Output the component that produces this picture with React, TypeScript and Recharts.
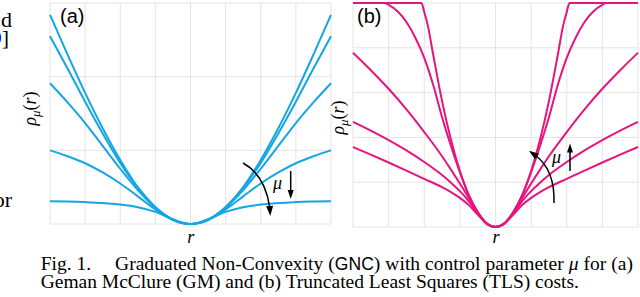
import { LineChart, Line, XAxis, YAxis, CartesianGrid } from 'recharts'

// (a) Geman McClure, shared r grid
const gmR = [-4, -3.5, -3, -2.5, -2, -1.5, -1, -0.5, 0, 0.5, 1, 1.5, 2, 2.5, 3, 3.5, 4]
const gm1 = [2.84, 2.3, 1.78, 1.3, 0.87, 0.5, 0.23, 0.058, 0, 0.058, 0.23, 0.5, 0.87, 1.3, 1.78, 2.3, 2.84]
const gm2 = [2.55, 2.11, 1.66, 1.23, 0.83, 0.49, 0.22, 0.057, 0, 0.057, 0.22, 0.49, 0.83, 1.23, 1.66, 2.11, 2.55]
const gm3 = [1.91, 1.65, 1.37, 1.06, 0.75, 0.46, 0.22, 0.057, 0, 0.057, 0.22, 0.46, 0.75, 1.06, 1.37, 1.65, 1.91]
const gm4 = [1.0, 0.92, 0.825, 0.7, 0.55, 0.375, 0.196, 0.055, 0, 0.055, 0.196, 0.375, 0.55, 0.7, 0.825, 0.92, 1.0]
const gm5 = [0.31, 0.305, 0.297, 0.285, 0.264, 0.228, 0.165, 0.066, 0, 0.066, 0.165, 0.228, 0.264, 0.285, 0.297, 0.305, 0.31]

// (b) Truncated Least Squares, the two steep ones need their own r points
const tls1R = [-4, -2.08, -2, -1.9, -1.75, -1.5, -1.25, -1, -0.75, -0.5, -0.25, 0, 0.25, 0.5, 0.75, 1, 1.25, 1.5, 1.75, 1.9, 2, 2.08, 4]
const tls1 = [10, 10, 9.6, 9.0, 7.7, 5.62, 3.9, 2.5, 1.42, 0.67, 0.17, 0, 0.17, 0.67, 1.42, 2.5, 3.9, 5.62, 7.7, 9.0, 9.6, 10, 10]
const tls2R = [-4, -3.12, -3, -2.75, -2.5, -2.25, -2, -1.75, -1.5, -1.25, -1, -0.75, -0.5, -0.25, 0, 0.25, 0.5, 0.75, 1, 1.25, 1.5, 1.75, 2, 2.25, 2.5, 2.75, 3, 3.12, 4]
const tls2 = [10, 10, 9.92, 9.63, 9.15, 8.45, 7.55, 6.35, 4.9, 3.62, 2.45, 1.42, 0.67, 0.17, 0, 0.17, 0.67, 1.42, 2.45, 3.62, 4.9, 6.35, 7.55, 8.45, 9.15, 9.63, 9.92, 10, 10]
const tlsR = [-4, -3.5, -3, -2.5, -2, -1.5, -1.25, -1, -0.75, -0.5, -0.25, 0, 0.25, 0.5, 0.75, 1, 1.25, 1.5, 2, 2.5, 3, 3.5, 4]
const tls3 = [7.78, 7.0, 6.17, 5.25, 4.24, 3.16, 2.56, 1.94, 1.3, 0.65, 0.15, 0, 0.15, 0.65, 1.3, 1.94, 2.56, 3.16, 4.24, 5.25, 6.17, 7.0, 7.78]
const tls4 = [4.69, 4.3, 3.88, 3.42, 2.9, 2.32, 1.98, 1.6, 1.16, 0.62, 0.15, 0, 0.15, 0.62, 1.16, 1.6, 1.98, 2.32, 2.9, 3.42, 3.88, 4.3, 4.69]
const tls5 = [3.57, 3.23, 2.88, 2.52, 2.15, 1.78, 1.56, 1.3, 0.98, 0.56, 0.15, 0, 0.15, 0.56, 0.98, 1.3, 1.56, 1.78, 2.15, 2.52, 2.88, 3.23, 3.57]

const rTicks = [-4, -3, -2, -1, 0, 1, 2, 3, 4]
const gmTicks = [0, 1, 2, 3]
const tlsTicks = [0, 1, 2, 3, 4, 5, 6, 7, 8, 9, 10]

const CYAN = '#14a6e4'
const MAGENTA = '#e5157f'
const AXIS = '#808080'
const GRID = '#e4e4e4'
const SERIF = '"Liberation Serif", "Times New Roman", serif'
const SANS = '"Liberation Sans", Arial, sans-serif'

const gmData = gmR.map((r, i) => ({ r, g1: gm1[i], g2: gm2[i], g3: gm3[i], g4: gm4[i], g5: gm5[i] }))
const pts = (rs: number[], vs: number[]) => rs.map((r, i) => ({ r, v: vs[i] }))
const tlsSeries = [pts(tls1R, tls1), pts(tls2R, tls2), pts(tlsR, tls3), pts(tlsR, tls4), pts(tlsR, tls5)]

// matlab style ticks pointing into the plot
const TickUp = (p: any) => <line x1={p.x} x2={p.x} y1={p.y} y2={p.y - 3} stroke={AXIS} />
const TickRight = (p: any) => <line x1={p.x} x2={p.x + 3} y1={p.y} y2={p.y} stroke={AXIS} />

function head(tx: number, ty: number, bx: number, by: number, hw: number) {
  const dx = tx - bx
  const dy = ty - by
  const len = Math.hypot(dx, dy)
  const nx = -dy / len
  const ny = dx / len
  return `${tx},${ty} ${bx + nx * hw},${by + ny * hw} ${bx - nx * hw},${by - ny * hw}`
}

function Overlay() {
  return (
    <svg width={640} height={297} style={{ position: 'absolute', left: 0, top: 0, pointerEvents: 'none' }}>
      {/* bits of the neighbouring column */}
      <g fontFamily={SERIF} fontSize={22} fill="#000">
        <text x={12} y={27} textAnchor="end">d</text>
        <text x={9} y={45} textAnchor="end"><tspan fill="#0000ff">9</tspan>]</text>
        <text x={12} y={207} textAnchor="end">or</text>
      </g>

      <text x={60} y={23} fontFamily={SANS} fontSize={20}>(a)</text>
      <text x={357} y={23} fontFamily={SANS} fontSize={20}>(b)</text>

      <g fontFamily={SERIF} fontStyle="italic" fontSize={18}>
        <text transform="translate(36,108.5) rotate(-90)" textAnchor="middle">
          ρ<tspan fontSize={13} dy={4}>μ</tspan><tspan dy={-4} fontStyle="normal">(</tspan>r<tspan fontStyle="normal">)</tspan>
        </text>
        <text transform="translate(344,117.5) rotate(-90)" textAnchor="middle">
          ρ<tspan fontSize={13} dy={4}>μ</tspan><tspan dy={-4} fontStyle="normal">(</tspan>r<tspan fontStyle="normal">)</tspan>
        </text>
        <text x={190.7} y={243} textAnchor="middle">r</text>
        <text x={496} y={243} textAnchor="middle">r</text>
        <text x={273} y={189}>μ</text>
        <text x={552} y={163}>μ</text>
      </g>

      {/* mu arrows */}
      <g stroke="#000" strokeWidth={1.5} fill="none">
        <path d="M243,163 Q265,175 269.6,207" />
        <line x1={290.7} y1={171} x2={290.7} y2={191} />
        <path d="M554,203 Q555,170 535.5,155.5" />
        <line x1={570} y1={171} x2={570} y2={151} />
      </g>
      <g fill="#000">
        <polygon points={head(270.3, 216, 269.6, 206, 3.5)} />
        <polygon points={head(290.7, 199, 290.7, 190, 3)} />
        <polygon points={head(529, 150.7, 537, 156.5, 3.5)} />
        <polygon points={head(570, 143.5, 570, 152.5, 3)} />
      </g>

      <g fontFamily={SERIF} fontSize={19.5} fill="#000">
        <text x={40.7} y={270}>Fig. 1.</text>
        <text x={115} y={270} textLength={518} lengthAdjust="spacing">
          Graduated Non-Convexity (<tspan fontFamily={SANS} fontSize={17.5}>GNC</tspan>) with control parameter <tspan fontStyle="italic">μ</tspan> for (a)
        </text>
        <text x={40.7} y={287.5}>Geman McClure (GM) and (b) Truncated Least Squares (TLS) costs.</text>
      </g>
    </svg>
  )
}

export default function App() {
  return (
    <div style={{ position: 'fixed', left: 0, top: 0, width: 640, height: 297, background: '#fff', overflow: 'hidden' }}>
      <div style={{ position: 'absolute', left: 0, top: 0 }}>
        <LineChart width={335} height={230} data={gmData} margin={{ top: 3, right: 4, bottom: 6, left: 50 }}>
          <CartesianGrid stroke={GRID} />
          <XAxis dataKey="r" type="number" domain={[-4, 4]} ticks={rTicks} height={0} stroke={AXIS} tickLine={false} tickSize={0} tickMargin={0} tick={TickUp} />
          <YAxis type="number" domain={[0, 3]} ticks={gmTicks} width={0} stroke={AXIS} tickLine={false} tickSize={0} tickMargin={0} tick={TickRight} />
          {['g1', 'g2', 'g3', 'g4', 'g5'].map((k) => (
            <Line key={k} dataKey={k} type="monotone" stroke={CYAN} strokeWidth={2} dot={false} isAnimationActive={false} />
          ))}
        </LineChart>
      </div>
      <div style={{ position: 'absolute', left: 340, top: 0 }}>
        <LineChart width={300} height={230} margin={{ top: 3, right: 2, bottom: 3, left: 13 }}>
          <CartesianGrid stroke={GRID} />
          <XAxis dataKey="r" type="number" domain={[-4, 4]} ticks={rTicks} height={0} stroke={AXIS} tickLine={false} tickSize={0} tickMargin={0} tick={TickUp} allowDuplicatedCategory={false} />
          <YAxis type="number" domain={[0, 10]} ticks={tlsTicks} width={0} stroke={AXIS} tickLine={false} tickSize={0} tickMargin={0} tick={TickRight} />
          {tlsSeries.map((d, i) => (
            <Line key={i} data={d} dataKey="v" type="monotone" stroke={MAGENTA} strokeWidth={2} dot={false} isAnimationActive={false} />
          ))}
        </LineChart>
      </div>
      <Overlay />
    </div>
  )
}
